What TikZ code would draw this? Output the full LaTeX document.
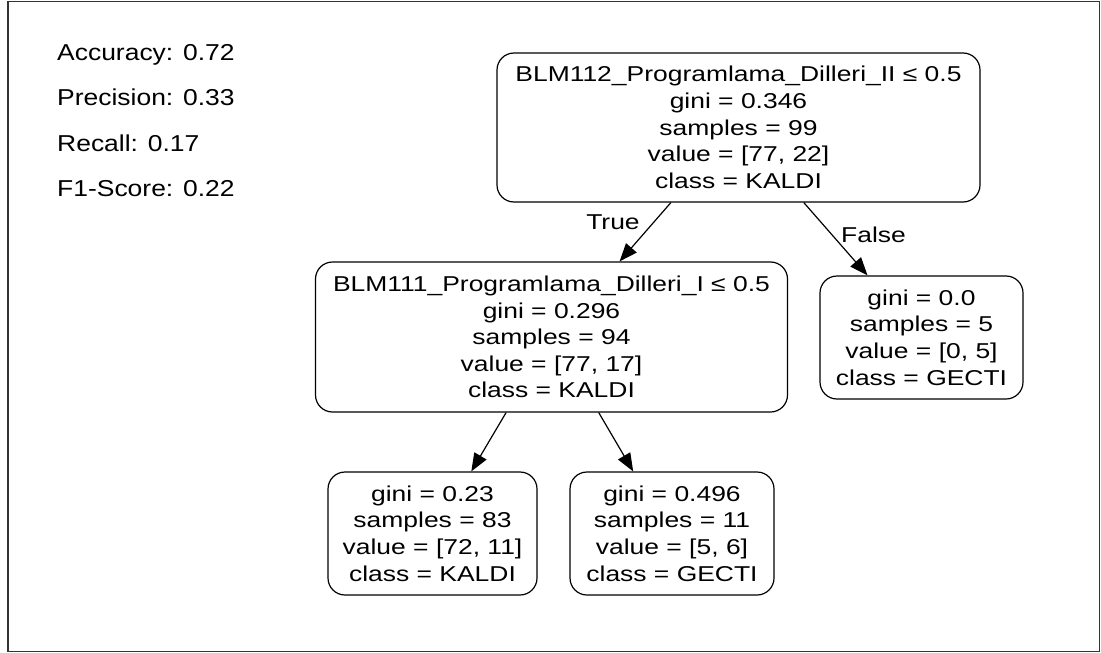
\documentclass[tikz,border=0pt]{standalone}
\usepackage{fontspec}
\setmainfont{Liberation Sans}
\newfontfamily\treefont{Liberation Sans}[FakeStretch=1.23]
\newfontfamily\metricfont{Liberation Sans}[FakeStretch=1.15]
\usetikzlibrary{arrows.meta}
\begin{document}
\begin{tikzpicture}[x=1pt,y=-1pt,
  treebox/.style={draw=black, line width=1.2pt, fill=white, rounded corners=17pt,
    align=center, inner sep=0pt, font={\treefont\fontsize{21.5}{26.6}\selectfont}},
  edgearrow/.style={line width=1.2pt, -{Triangle[length=18pt,width=14pt]}},
  edgelabel/.style={font={\treefont\fontsize{21.5}{26}\selectfont}, inner sep=0pt},
  metric/.style={anchor=base west, inner sep=0pt, font={\metricfont\fontsize{23}{27}\selectfont}}
]
\useasboundingbox (0,0) rectangle (1101,653);
% outer frame
\draw[line width=1.5pt, draw=black!80] (8,1.5) rectangle (1099.5,651.5);

% scores
\node[metric] (acc) at (57,60)  {Accuracy: 0.72};
\node[metric] (pre) at (57,105) {Precision: 0.33};
\node[metric] (rec) at (57,151) {Recall: 0.17};
\node[metric] (f1)  at (57,196) {F1-Score: 0.22};

% tree nodes
\node[treebox, minimum width=483pt, minimum height=149pt] (root) at (738.5,127.5)
  {BLM112\_Programlama\_Dilleri\_II ≤ 0.5\\gini = 0.346\\samples = 99\\value = [77, 22]\\class = KALDI};
\node[treebox, minimum width=472pt, minimum height=150pt] (left) at (551.5,337)
  {BLM111\_Programlama\_Dilleri\_I ≤ 0.5\\gini = 0.296\\samples = 94\\value = [77, 17]\\class = KALDI};
\node[treebox, minimum width=203pt, minimum height=123pt] (right) at (921.5,337.5)
  {gini = 0.0\\samples = 5\\value = [0, 5]\\class = GECTI};
\node[treebox, minimum width=209pt, minimum height=123pt] (leafa) at (432.5,533.5)
  {gini = 0.23\\samples = 83\\value = [72, 11]\\class = KALDI};
\node[treebox, minimum width=204pt, minimum height=123pt] (leafb) at (672,533.5)
  {gini = 0.496\\samples = 11\\value = [5, 6]\\class = GECTI};

% edges
\draw[edgearrow] (root.-132.6) -- (left.48.4);
\draw[edgearrow] (root.-49.1) -- (right.131.5);
\draw[edgearrow] (left.-121.2) -- (leafa.58.6);
\draw[edgearrow] (left.-58.8) -- (leafb.122.4);

% edge labels
\node[edgelabel] (tlabel) at (613,222) {True};
\node[edgelabel, anchor=west] (flabel) at (841,235) {False};
\end{tikzpicture}
\end{document}
